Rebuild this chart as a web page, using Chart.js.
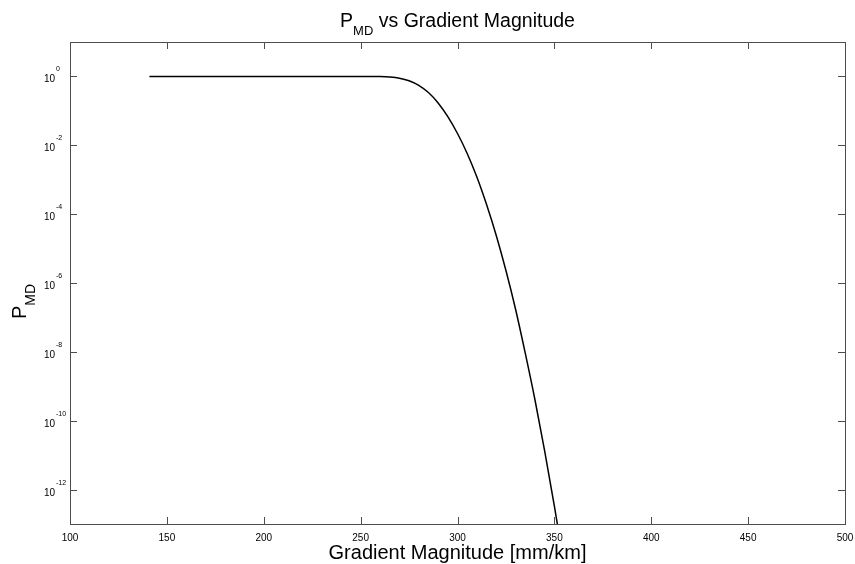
<!DOCTYPE html>
<html>
<head>
<meta charset="utf-8">
<script src="https://cdn.jsdelivr.net/npm/chart.js@4.4.1/dist/chart.umd.min.js"></script>
<style>
  html, body { margin: 0; padding: 0; background: #fff; }
  #wrap { width: 855px; height: 564px; }
</style>
</head>
<body>
<div id="wrap"><canvas id="chart"></canvas></div>
<script>
// values
const gradient = [141, 160, 180, 200, 220, 240, 250, 255, 260, 265, 270, 275, 280, 285, 290, 295,
  300, 305, 310, 315, 320, 325, 330, 335, 340, 345, 350, 352];
const pmd = [1, 1, 1, 1, 1, 0.9999, 0.9995, 0.998, 0.99, 0.96, 0.89, 0.75, 0.55, 0.34, 0.17, 0.068,
  0.022, 5.8e-3, 1.2e-3, 1.9e-4, 2.4e-5, 2.3e-6, 1.7e-7, 9e-9, 4e-10, 1.3e-11, 3.3e-13, 7e-14];
const xTicks = [100, 150, 200, 250, 300, 350, 400, 450, 500];
const yTickExps = [0, -2, -4, -6, -8, -10, -12];

const axisColor = "#4d4d4d";
const fontFamily = "'Liberation Sans', Arial, Helvetica, sans-serif";

// box, inward ticks, labels and titles (MATLAB style)
const matlabAxes = {
  id: "matlabAxes",
  afterDraw(chart) {
    const { ctx, chartArea: a, scales } = chart;
    const x = scales.x, y = scales.y;
    const tick = 7;
    ctx.save();
    ctx.strokeStyle = axisColor;
    ctx.lineWidth = 1;
    ctx.strokeRect(Math.round(a.left) + 0.5, Math.round(a.top) + 0.5,
      Math.round(a.right - a.left), Math.round(a.bottom - a.top));

    ctx.beginPath();
    x.ticks.forEach(t => {
      const px = Math.round(x.getPixelForValue(t.value)) + 0.5;
      ctx.moveTo(px, a.bottom); ctx.lineTo(px, a.bottom - tick);
      ctx.moveTo(px, a.top); ctx.lineTo(px, a.top + tick);
    });
    y.ticks.forEach(t => {
      const py = Math.round(y.getPixelForValue(t.value)) + 0.5;
      ctx.moveTo(a.left, py); ctx.lineTo(a.left + tick, py);
      ctx.moveTo(a.right, py); ctx.lineTo(a.right - tick, py);
    });
    ctx.stroke();

    // x tick labels
    ctx.fillStyle = "#000";
    ctx.font = "10px " + fontFamily;
    ctx.textAlign = "center";
    ctx.textBaseline = "alphabetic";
    x.ticks.forEach(t => {
      ctx.fillText(String(t.value), x.getPixelForValue(t.value), 541);
    });

    // y tick labels: 10 with superscript exponent
    y.ticks.forEach(t => {
      const py = y.getPixelForValue(t.value);
      const e = Math.round(Math.log10(t.value));
      ctx.font = "10px " + fontFamily;
      ctx.textAlign = "right";
      ctx.fillText("10", 55, py + 6);
      ctx.font = "7px " + fontFamily;
      ctx.textAlign = "left";
      ctx.fillText(String(e), 56, py - 5);
    });

    // title: P_MD vs Gradient Magnitude
    const big = "19.5px " + fontFamily, small = "13px " + fontFamily;
    ctx.font = big;
    const wP = ctx.measureText("P").width;
    const wRest = ctx.measureText(" vs Gradient Magnitude").width;
    ctx.font = small;
    const wSub = ctx.measureText("MD").width;
    let tx = (a.left + a.right) / 2 - (wP + wSub + wRest) / 2;
    ctx.textAlign = "left";
    ctx.font = big; ctx.fillText("P", tx, 27); tx += wP;
    ctx.font = small; ctx.fillText("MD", tx, 35); tx += wSub;
    ctx.font = big; ctx.fillText(" vs Gradient Magnitude", tx, 27);

    // x axis label
    ctx.font = "20px " + fontFamily;
    ctx.textAlign = "center";
    ctx.fillText("Gradient Magnitude [mm/km]", (a.left + a.right) / 2, 559);

    // y axis label: P_MD rotated
    ctx.translate(26, 319);
    ctx.rotate(-Math.PI / 2);
    ctx.textAlign = "left";
    ctx.font = "20px " + fontFamily;
    ctx.fillText("P", 0, 0);
    const wP2 = ctx.measureText("P").width;
    ctx.font = "14px " + fontFamily;
    ctx.fillText("MD", wP2, 9);
    ctx.restore();
  }
};

new Chart(document.getElementById("chart"), {
  type: "line",
  data: {
    datasets: [{
      label: "P_MD",
      data: gradient.map((g, i) => ({ x: g, y: pmd[i] })),
      borderColor: "#000",
      borderWidth: 1.5,
      pointRadius: 0,
      fill: false,
      cubicInterpolationMode: "monotone"
    }]
  },
  options: {
    responsive: true,
    maintainAspectRatio: false,
    animation: false,
    layout: { padding: { top: 42, right: 10, left: 0, bottom: 0 } },
    plugins: { legend: { display: false }, tooltip: { enabled: false }, title: { display: false } },
    scales: {
      x: {
        type: "linear",
        min: 100,
        max: 500,
        afterBuildTicks: s => { s.ticks = xTicks.map(v => ({ value: v })); },
        afterFit: s => { s.height = 40; },
        ticks: { display: false },
        grid: { display: false },
        border: { display: false }
      },
      y: {
        type: "logarithmic",
        min: 1e-13,
        max: 10,
        afterBuildTicks: s => { s.ticks = yTickExps.map(e => ({ value: Math.pow(10, e) })); },
        afterFit: s => { s.width = 70; },
        ticks: { display: false },
        grid: { display: false },
        border: { display: false }
      }
    }
  },
  plugins: [matlabAxes]
});
</script>
</body>
</html>
